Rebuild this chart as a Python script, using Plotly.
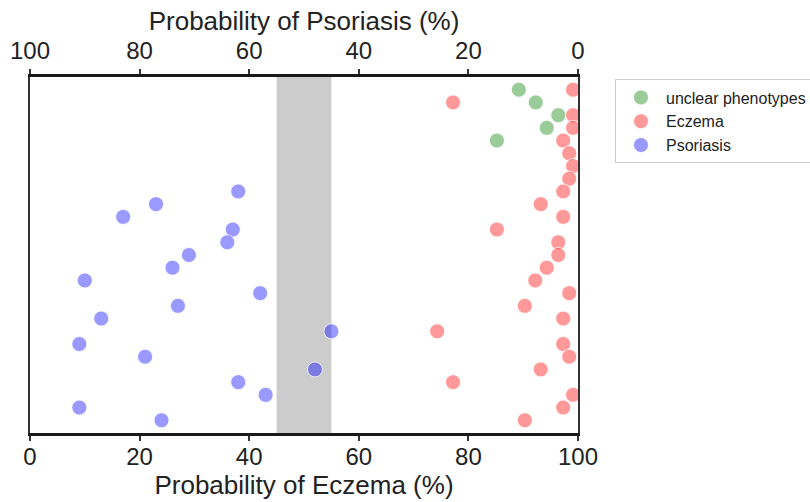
import plotly.graph_objects as go

# Row index of each sample (0 = top)
unclear_rows = [0, 1, 2, 3, 4]
unclear_eczema = [89.2, 92.3, 96.4, 94.3, 85.2]

eczema_rows = list(range(27))
eczema_prob = [99.1, 77.2, 99.1, 99.1, 97.3, 98.4, 99.1, 98.4, 97.3, 93.2,
               97.3, 85.2, 96.4, 96.4, 94.3, 92.2, 98.4, 90.3, 97.3, 74.3,
               97.3, 98.4, 93.2, 77.2, 99.1, 97.3, 90.3]

psoriasis_rows = list(range(8, 27))
psoriasis_prob = [62, 77, 83, 63, 64, 71, 74, 90, 58, 73, 87, 45, 91, 79, 48,
                  62, 57, 91, 76]

band_low, band_high = 45, 55
tick_values = [0, 20, 40, 60, 80, 100]

FONT = "Liberation Sans, Arial, sans-serif"

fig = go.Figure()

def marker(rgb):
    return dict(size=15, color=f"rgba({rgb},0.4)",
                line=dict(color="rgba(255,255,255,0.8)", width=1))

fig.add_trace(go.Scatter(x=unclear_eczema, y=unclear_rows, mode="markers",
                         name="unclear phenotypes", marker=marker("0,128,0")))
fig.add_trace(go.Scatter(x=eczema_prob, y=eczema_rows, mode="markers",
                         name="Eczema", marker=marker("255,0,0")))
fig.add_trace(go.Scatter(x=psoriasis_prob, y=psoriasis_rows, mode="markers",
                         name="Psoriasis", marker=marker("0,0,255"),
                         xaxis="x2"))

fig.add_shape(type="rect", xref="x", yref="paper", x0=band_low, x1=band_high,
              y0=0, y1=1, fillcolor="rgba(0,0,0,0.2)", line=dict(width=0),
              layer="below")

axis_common = dict(
    showgrid=False, zeroline=False, showline=True, linecolor="#1a1a1a",
    linewidth=3, ticks="outside", ticklen=5, tickwidth=1.5, tickcolor="#333",
    tickfont=dict(size=24, color="#222", family=FONT),
    tickvals=tick_values,
)

fig.update_layout(
    width=810, height=502,
    margin=dict(l=30, r=232, t=77, b=69, autoexpand=False),
    plot_bgcolor="white", paper_bgcolor="white",
    font=dict(family=FONT, color="#222"),
    xaxis=dict(range=[0, 100], side="bottom", ticklabelstandoff=-5,
               title=dict(text="Probability of Eczema (%)",
                          font=dict(size=26, family=FONT, color="#222"),
                          standoff=4),
               **axis_common),
    xaxis2=dict(range=[100, 0], side="top", overlaying="x",
                ticklabelstandoff=0,
                title=dict(text="Probability of Psoriasis (%)",
                           font=dict(size=26, family=FONT, color="#222"),
                           standoff=0),
                **axis_common),
    yaxis=dict(range=[27, -1], showgrid=False, zeroline=False,
               showticklabels=False, ticks="", showline=True, mirror=True,
               linecolor="#333", linewidth=2),
    legend=dict(x=1.0675, xanchor="left", y=0.993, yanchor="top",
                font=dict(size=16, family=FONT, color="#222"),
                itemwidth=40,
                bordercolor="#cccccc", borderwidth=1, bgcolor="white"),
    showlegend=True,
)

fig.write_html("out.html")
